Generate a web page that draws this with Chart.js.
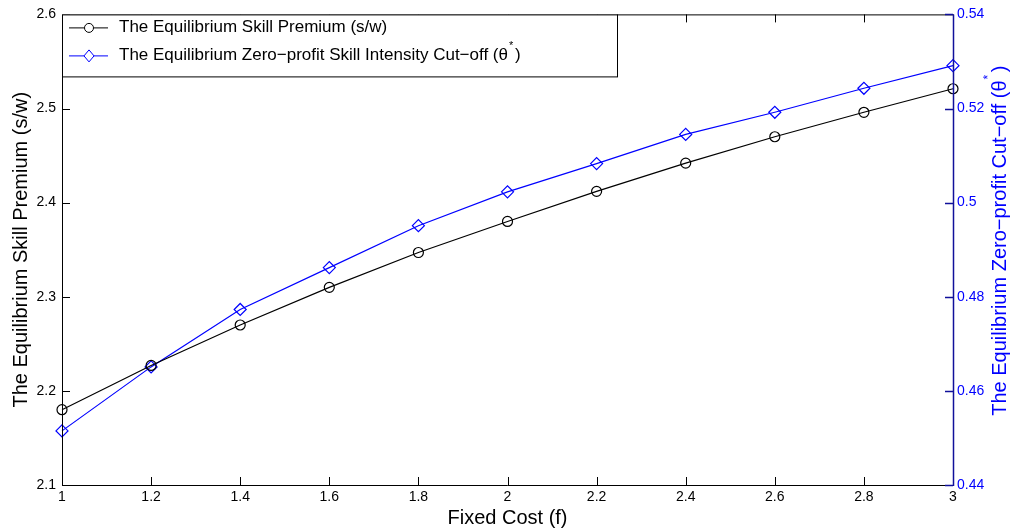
<!DOCTYPE html>
<html>
<head>
<meta charset="utf-8">
<script src="https://cdn.jsdelivr.net/npm/chart.js@4.4.1/dist/chart.umd.min.js"></script>
<style>
  html, body { margin: 0; padding: 0; background: #fff; }
  #wrap { position: relative; width: 1014px; height: 531px; }
</style>
</head>
<body>
<div id="wrap"><canvas id="chart" width="1014" height="531"></canvas></div>
<script>
const fixedCost = [1, 1.2, 1.4, 1.6, 1.8, 2, 2.2, 2.4, 2.6, 2.8, 3];
const skillPremium = [2.180, 2.227, 2.270, 2.310, 2.347, 2.380, 2.412, 2.442, 2.470, 2.496, 2.521];
const cutoff = [0.4515, 0.4651, 0.4773, 0.4862, 0.4951, 0.5023, 0.5083, 0.5145, 0.5192, 0.5243, 0.5291];

const xTicks = [1, 1.2, 1.4, 1.6, 1.8, 2, 2.2, 2.4, 2.6, 2.8, 3];
const leftTicks = [2.1, 2.2, 2.3, 2.4, 2.5, 2.6];
const rightTicks = [0.44, 0.46, 0.48, 0.5, 0.52, 0.54];

const seriesNames = ['The Equilibrium Skill Premium (s/w)', 'The Equilibrium Zero\u2212profit Skill Intensity Cut\u2212off (\u03b8'];
const leftTitle = 'The Equilibrium Skill Premium (s/w)';
const rightTitle = 'The Equilibrium Zero\u2212profit Cut\u2212off (\u03b8';
const xTitle = 'Fixed Cost (f)';

const FONT = '"Liberation Sans", Arial, Helvetica, sans-serif';
const BLUE = '#0000ff';
const AXIS_BLUE = '#10109a';

// draws the MATLAB style frame, inward ticks, titles and legend
const matlabFrame = {
  id: 'matlabFrame',
  afterDraw(chart) {
    const ctx = chart.ctx;
    const a = chart.chartArea;
    const x = chart.scales.x, yl = chart.scales.y, yr = chart.scales.y2;
    const tl = 8;
    ctx.save();
    ctx.lineWidth = 1;

    // x ticks bottom and top
    ctx.strokeStyle = '#000';
    ctx.beginPath();
    xTicks.forEach(v => {
      const px = Math.round(x.getPixelForValue(v)) + 0.5;
      ctx.moveTo(px, a.bottom); ctx.lineTo(px, a.bottom - tl);
      ctx.moveTo(px, a.top); ctx.lineTo(px, a.top + tl);
    });
    leftTicks.forEach(v => {
      const py = Math.round(yl.getPixelForValue(v)) + 0.5;
      ctx.moveTo(a.left, py); ctx.lineTo(a.left + tl, py);
    });
    ctx.stroke();

    // frame: left, top, bottom
    ctx.beginPath();
    ctx.moveTo(a.left + 0.5, a.top + 0.5);
    ctx.lineTo(a.left + 0.5, a.bottom + 0.5);
    ctx.lineTo(a.right, a.bottom + 0.5);
    ctx.moveTo(a.left + 0.5, a.top + 0.5);
    ctx.lineTo(a.right, a.top + 0.5);
    ctx.stroke();

    // right axis in blue
    ctx.strokeStyle = AXIS_BLUE;
    ctx.lineWidth = 1.5;
    ctx.beginPath();
    ctx.moveTo(a.right + 0.5, a.top);
    ctx.lineTo(a.right + 0.5, a.bottom + 1);
    rightTicks.forEach(v => {
      const py = Math.round(yr.getPixelForValue(v)) + 0.5;
      ctx.moveTo(a.right, py); ctx.lineTo(a.right - tl, py);
    });
    ctx.stroke();

    // titles
    ctx.fillStyle = '#000';
    ctx.font = '20px ' + FONT;
    ctx.textAlign = 'center';
    ctx.textBaseline = 'middle';
    ctx.fillText(xTitle, (a.left + a.right) / 2, 518);

    ctx.save();
    ctx.translate(21, (a.top + a.bottom) / 2);
    ctx.rotate(-Math.PI / 2);
    ctx.fillText(leftTitle, 0, 0);
    ctx.restore();

    ctx.save();
    ctx.fillStyle = BLUE;
    ctx.translate(1000, (a.top + a.bottom) / 2 - 10);
    ctx.rotate(-Math.PI / 2);
    const w1 = ctx.measureText(rightTitle).width;
    ctx.font = '12px ' + FONT;
    const ws = ctx.measureText('*').width;
    ctx.font = '20px ' + FONT;
    const w2 = ctx.measureText(' )').width;
    let sx = -(w1 + ws + w2) / 2;
    ctx.textAlign = 'left';
    ctx.fillText(rightTitle, sx, 0);
    ctx.font = '12px ' + FONT;
    ctx.fillText('*', sx + w1 + 1, -11);
    ctx.font = '20px ' + FONT;
    ctx.fillText(' )', sx + w1 + ws - 2, 0);
    ctx.restore();

    // legend
    const lx = a.left, ly = a.top, lw = 555, lh = 62;
    ctx.fillStyle = '#fff';
    ctx.fillRect(lx, ly, lw, lh);
    ctx.strokeStyle = '#000';
    ctx.lineWidth = 1;
    ctx.strokeRect(lx + 0.5, ly + 0.5, lw, lh);
    const rows = [ly + 13, ly + 41];
    const cols = ['#000', BLUE];
    rows.forEach((ry, i) => {
      ctx.strokeStyle = cols[i];
      ctx.beginPath();
      ctx.moveTo(lx + 7, ry + 0.5); ctx.lineTo(lx + 46, ry + 0.5);
      ctx.stroke();
      ctx.fillStyle = '#fff';
      ctx.beginPath();
      if (i === 0) {
        ctx.arc(lx + 27, ry + 0.5, 4.5, 0, Math.PI * 2);
      } else {
        ctx.moveTo(lx + 27, ry - 5.5); ctx.lineTo(lx + 32, ry + 0.5);
        ctx.lineTo(lx + 27, ry + 6.5); ctx.lineTo(lx + 22, ry + 0.5);
        ctx.closePath();
      }
      ctx.fill();
      ctx.stroke();
      ctx.fillStyle = '#000';
      ctx.font = '17px ' + FONT;
      ctx.textAlign = 'left';
      ctx.textBaseline = 'middle';
      ctx.fillText(seriesNames[i], lx + 57, ry);
      if (i === 1) {
        const tw = ctx.measureText(seriesNames[i]).width;
        ctx.font = '11px ' + FONT;
        ctx.fillText('*', lx + 57 + tw + 1, ry - 9);
        ctx.font = '17px ' + FONT;
        ctx.fillText(')', lx + 57 + tw + 7, ry);
      }
    });
    ctx.restore();
  }
};

new Chart(document.getElementById('chart').getContext('2d'), {
  type: 'line',
  data: {
    datasets: [{
      label: seriesNames[0],
      data: fixedCost.map((f, i) => ({ x: f, y: skillPremium[i] })),
      yAxisID: 'y',
      borderColor: '#000',
      borderWidth: 1.2,
      pointStyle: 'circle',
      pointRadius: 5,
      pointBorderColor: '#000',
      pointBackgroundColor: 'rgba(255,255,255,0)',
      pointBorderWidth: 1.2,
      tension: 0
    }, {
      label: seriesNames[1],
      data: fixedCost.map((f, i) => ({ x: f, y: cutoff[i] })),
      yAxisID: 'y2',
      borderColor: BLUE,
      borderWidth: 1.2,
      pointStyle: 'rectRot',
      pointRadius: 6,
      pointBorderColor: BLUE,
      pointBackgroundColor: 'rgba(255,255,255,0)',
      pointBorderWidth: 1.2,
      tension: 0
    }]
  },
  options: {
    responsive: false,
    animation: false,
    clip: false,
    layout: { padding: { top: 14, left: 0, right: 0, bottom: 0 } },
    plugins: { legend: { display: false }, tooltip: { enabled: false } },
    scales: {
      x: {
        type: 'linear',
        min: 1, max: 3,
        afterBuildTicks: s => { s.ticks = xTicks.map(v => ({ value: v })); },
        afterFit: s => { s.height = 46; },
        grid: { display: false, drawTicks: false },
        border: { display: false },
        ticks: { color: '#000', padding: 4, font: { family: FONT, size: 14 }, maxRotation: 0,
                 callback: v => String(Math.round(v * 10) / 10) }
      },
      y: {
        position: 'left',
        min: 2.1, max: 2.6,
        afterBuildTicks: s => { s.ticks = leftTicks.map(v => ({ value: v })); },
        afterFit: s => { s.width = 62; },
        grid: { display: false, drawTicks: false },
        border: { display: false },
        ticks: { color: '#000', padding: 6, font: { family: FONT, size: 14 }, callback: v => v.toString() }
      },
      y2: {
        position: 'right',
        min: 0.44, max: 0.54,
        afterBuildTicks: s => { s.ticks = rightTicks.map(v => ({ value: v })); },
        afterFit: s => { s.width = 61; },
        grid: { display: false, drawTicks: false },
        border: { display: false },
        ticks: { color: BLUE, padding: 4, font: { family: FONT, size: 14 }, callback: v => v.toString() }
      }
    }
  },
  plugins: [matlabFrame]
});
</script>
</body>
</html>
